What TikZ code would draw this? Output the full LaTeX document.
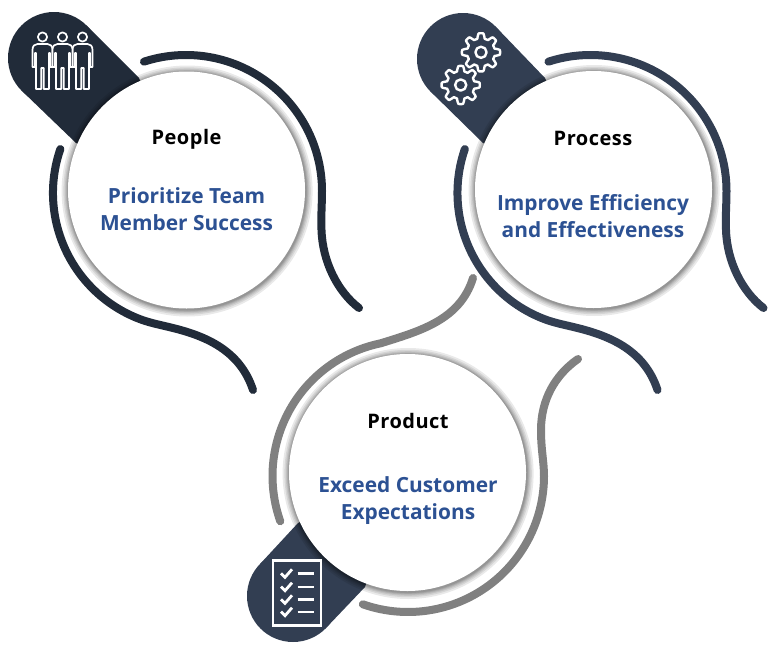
\documentclass[tikz,border=0pt]{standalone}
\usepackage{fontspec}
\setmainfont{Open Sans}
\definecolor{peopledark}{HTML}{212B39}
\definecolor{processdark}{HTML}{323E52}
\definecolor{productgray}{HTML}{808080}
\definecolor{goalblue}{HTML}{2C5193}
\tikzset{
  curveline/.style={line width=8pt,line cap=round},
  iconline/.style={draw=white,line width=1.7pt,line join=round},
  headtext/.style={inner sep=0pt,font=\fontsize{20}{24}\selectfont\bfseries\addfontfeature{LetterSpace=2.5}},
  goaltext/.style={inner sep=0pt,align=center,text=goalblue,font=\fontsize{20.9}{27}\selectfont\bfseries},
}
\begin{document}
\begin{tikzpicture}[x=1pt,y=-1pt]
\useasboundingbox (0,0) rectangle (779,645);

\coordinate (peoplec) at (186.5,190);
\coordinate (processc) at (593.5,189.5);
\coordinate (productc) at (407.5,472.5);

% pills
\fill[peopledark] (54,58) circle (46);
\fill[peopledark] (86.5,25.5) -- (139,78) -- (peoplec) -- (76,143) -- (21.5,90.5) -- cycle;
\fill[processdark] (463,59) circle (46);
\fill[processdark] (495.5,26.5) -- (545,78) -- (processc) -- (483,143) -- (430.5,91.5) -- cycle;
\fill[processdark] (293,596) circle (46);
\fill[processdark] (260.5,563.5) -- (298,523) -- (productc) -- (365,587) -- (325.5,628.5) -- cycle;

% people curves
\draw[curveline,peopledark] ([shift={(-108:136)}]186,191) arc[start angle=-108,end angle=0,radius=136]
  .. controls (322,205) and (321,212) .. (321.5,230)
  .. controls (322.5,262) and (338,292) .. (359,308);
\draw[curveline,peopledark] ([shift={(199:135)}]188,193) arc[start angle=199,end angle=111,radius=135]
  .. controls (150,323) and (161,325) .. (173,328)
  .. controls (205,336) and (240,350) .. (253,390);

% process curves
\begin{scope}[xshift=404.5pt]
\draw[curveline,processdark] ([shift={(-108:136)}]186,191) arc[start angle=-108,end angle=0,radius=136]
  .. controls (322,205) and (321,212) .. (321.5,230)
  .. controls (322.5,262) and (338,292) .. (359,308);
\draw[curveline,processdark] ([shift={(199:135)}]188,193) arc[start angle=199,end angle=111,radius=135]
  .. controls (150,323) and (161,325) .. (173,328)
  .. controls (205,336) and (240,350) .. (253,390);
\end{scope}

% product curves
\draw[curveline,productgray] ([shift={(160.5:135.5)}]408,476) arc[start angle=160.5,end angle=258.4,radius=135.5]
  .. controls (420,331) and (460,320) .. (473,278);
\draw[curveline,productgray] ([shift={(109.4:136)}]408,476) arc[start angle=109.4,end angle=0,radius=136]
  .. controls (544,462) and (541,450) .. (541,430)
  .. controls (541,400) and (555,375) .. (578,359);

% circles
\foreach \c in {peoplec,processc,productc}{
  \foreach \r in {7,5.2,3.8,2.7,1.8,1}
    \fill[black,opacity=0.085] ([shift={(0.6,1)}]\c) circle ({118.5+\r});
  \fill[white] (\c) circle (118.5);
}

% people icon
\foreach \h in {42.5,82.5,62.5}{
  \draw[iconline] (\h,37) circle (4.6);
  \begin{scope}[xshift=\h pt]
  \draw[iconline,fill=peopledark] (-5,44) -- (5,44) .. controls (8,44) and (10,46) .. (10,50) -- (10,67)
    -- (7.5,67) -- (7.5,53) -- (6.5,53) -- (6.5,89) -- (1.2,89) -- (1.2,68) -- (-1.2,68) -- (-1.2,89)
    -- (-6.5,89) -- (-6.5,53) -- (-7.5,53) -- (-7.5,67) -- (-10,67) -- (-10,50) .. controls (-10,46) and (-8,44) .. (-5,44) -- cycle;
  \end{scope}
}

% process icon
\coordinate (gearb) at (481,52.3);
\coordinate (geara) at (460.7,85);
\foreach \g in {gearb,geara}{
  \draw[iconline,line width=2.4pt,fill=processdark,shift={(\g)}] plot[domain=0:360,samples=145]
    (\x:{16.5+2.6*min(1,max(-1,1.8*cos(8*\x)))}) -- cycle;
  \draw[iconline,line width=2.4pt] (\g) circle (5.6);
}

% product icon
\draw[white,line width=2.6pt] (273,560.5) rectangle (321,625.5);
\foreach \y in {573.3,586.7,599.3,611.7}{
  \draw[white,line width=2.8pt] (281,\y) -- (285,\y+4) -- (292,\y-4);
  \draw[white,line width=2.4pt] (297.5,\y) -- (314,\y);
}

% labels
\node[headtext] (peoplehead) at (186.5,139.5) {People};
\node[goaltext] (peoplegoal) at (186.5,209) {Prioritize Team\\Member Success};
\node[headtext] (processhead) at (593,138) {Process};
\node[goaltext] (processgoal) at (593,216) {Improve Efficiency\\and Effectiveness};
\node[headtext] (producthead) at (408,421) {Product};
\node[goaltext] (productgoal) at (408,501) {Exceed Customer\\Expectations};

\end{tikzpicture}
\end{document}
